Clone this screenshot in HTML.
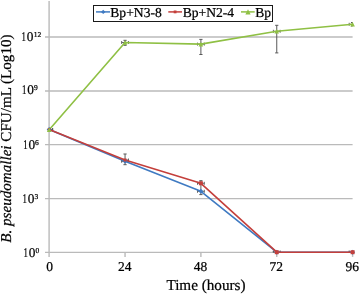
<!DOCTYPE html>
<html><head><meta charset="utf-8"><style>
html,body{margin:0;padding:0;background:#fff;width:359px;height:294px;overflow:hidden}
svg{display:block;text-rendering:geometricPrecision}
text{stroke:#000;stroke-width:0.22px;paint-order:stroke}
</style></head><body>
<svg width="359" height="294" viewBox="0 0 359 294">
<rect width="359" height="294" fill="#fff"/>
<line x1="45" y1="37.0" x2="352.6" y2="37.0" stroke="#bababa" stroke-width="1.4"/>
<line x1="45" y1="91.0" x2="352.6" y2="91.0" stroke="#bababa" stroke-width="1.4"/>
<line x1="45" y1="144.6" x2="352.6" y2="144.6" stroke="#bababa" stroke-width="1.4"/>
<line x1="45" y1="198.6" x2="352.6" y2="198.6" stroke="#bababa" stroke-width="1.4"/>
<line x1="45" y1="252.4" x2="352.6" y2="252.4" stroke="#bababa" stroke-width="1.4"/>
<line x1="49.1" y1="1" x2="49.1" y2="256.9" stroke="#bababa" stroke-width="1.4"/>
<line x1="125.05" y1="252.4" x2="125.05" y2="256.9" stroke="#bababa" stroke-width="1.4"/>
<line x1="200.90" y1="252.4" x2="200.90" y2="256.9" stroke="#bababa" stroke-width="1.4"/>
<line x1="276.75" y1="252.4" x2="276.75" y2="256.9" stroke="#bababa" stroke-width="1.4"/>
<line x1="352.60" y1="252.4" x2="352.60" y2="256.9" stroke="#bababa" stroke-width="1.4"/>
<clipPath id="pa"><rect x="49.2" y="0" width="303.4" height="252.4"/></clipPath><g clip-path="url(#pa)">
<path d="M125.05 40.3V45.3M123.45 40.3H126.65M123.45 45.3H126.65" stroke="#595959" stroke-width="1" fill="none"/>
<path d="M200.90 39.4V54.5M199.30 39.4H202.50M199.30 54.5H202.50" stroke="#595959" stroke-width="1" fill="none"/>
<path d="M276.75 25.3V52.9M275.15 25.3H278.35M275.15 52.9H278.35" stroke="#595959" stroke-width="1" fill="none"/>
<path d="M352.60 22.5V26M351.00 22.5H354.20M351.00 26H354.20" stroke="#595959" stroke-width="1" fill="none"/>
<path d="M125.05 154V164.7M123.45 154H126.65M123.45 164.7H126.65" stroke="#595959" stroke-width="1" fill="none"/>
<path d="M200.90 180.7V194.6M199.30 180.7H202.50M199.30 194.6H202.50" stroke="#595959" stroke-width="1" fill="none"/>
<path d="M45.80 129.60H52.60M45.80 128.10V131.10M52.60 128.10V131.10" stroke="#595959" stroke-width="0.9" fill="none"/>
<path d="M121.65 161.30H128.45M121.65 159.80V162.80M128.45 159.80V162.80" stroke="#595959" stroke-width="0.9" fill="none"/>
<path d="M197.50 191.30H204.30M197.50 189.80V192.80M204.30 189.80V192.80" stroke="#595959" stroke-width="0.9" fill="none"/>
<path d="M273.35 252.20H280.15M273.35 250.70V253.70M280.15 250.70V253.70" stroke="#595959" stroke-width="0.9" fill="none"/>
<path d="M349.20 252.20H356.00M349.20 250.70V253.70M356.00 250.70V253.70" stroke="#595959" stroke-width="0.9" fill="none"/>
<path d="M45.80 129.60H52.60M45.80 128.10V131.10M52.60 128.10V131.10" stroke="#595959" stroke-width="0.9" fill="none"/>
<path d="M121.65 160.00H128.45M121.65 158.50V161.50M128.45 158.50V161.50" stroke="#595959" stroke-width="0.9" fill="none"/>
<path d="M197.50 183.30H204.30M197.50 181.80V184.80M204.30 181.80V184.80" stroke="#595959" stroke-width="0.9" fill="none"/>
<path d="M273.35 252.20H280.15M273.35 250.70V253.70M280.15 250.70V253.70" stroke="#595959" stroke-width="0.9" fill="none"/>
<path d="M349.20 252.20H356.00M349.20 250.70V253.70M356.00 250.70V253.70" stroke="#595959" stroke-width="0.9" fill="none"/>
<path d="M45.80 129.80H52.60M45.80 128.30V131.30M52.60 128.30V131.30" stroke="#595959" stroke-width="0.9" fill="none"/>
<path d="M121.65 42.50H128.45M121.65 41.00V44.00M128.45 41.00V44.00" stroke="#595959" stroke-width="0.9" fill="none"/>
<path d="M197.50 44.10H204.30M197.50 42.60V45.60M204.30 42.60V45.60" stroke="#595959" stroke-width="0.9" fill="none"/>
<path d="M273.35 31.30H280.15M273.35 29.80V32.80M280.15 29.80V32.80" stroke="#595959" stroke-width="0.9" fill="none"/>
<path d="M349.20 24.30H356.00M349.20 22.80V25.80M356.00 22.80V25.80" stroke="#595959" stroke-width="0.9" fill="none"/>
</g>
<polyline points="49.20,129.6 125.05,161.3 200.90,191.3 276.75,252.2 352.60,252.2" fill="none" stroke="#3f7ac2" stroke-width="1.6" stroke-linejoin="round"/>
<polyline points="49.20,129.6 125.05,160.0 200.90,183.3 276.75,252.2 352.60,252.2" fill="none" stroke="#c43f3b" stroke-width="1.6" stroke-linejoin="round"/>
<polyline points="49.20,129.8 125.05,42.5 200.90,44.1 276.75,31.3 352.60,24.3" fill="none" stroke="#8fc044" stroke-width="1.6" stroke-linejoin="round"/>
<path d="M49.20 127.10L51.70 129.60L49.20 132.10L46.70 129.60Z" fill="#3f7ac2"/>
<path d="M125.05 158.80L127.55 161.30L125.05 163.80L122.55 161.30Z" fill="#3f7ac2"/>
<path d="M200.90 188.80L203.40 191.30L200.90 193.80L198.40 191.30Z" fill="#3f7ac2"/>
<path d="M276.75 249.70L279.25 252.20L276.75 254.70L274.25 252.20Z" fill="#3f7ac2"/>
<path d="M352.60 249.70L355.10 252.20L352.60 254.70L350.10 252.20Z" fill="#3f7ac2"/>
<rect x="47.80" y="128.20" width="2.8" height="2.8" fill="#c43f3b"/>
<rect x="123.55" y="158.50" width="3.0" height="3.0" fill="#c43f3b"/>
<rect x="198.90" y="181.30" width="4.0" height="4.0" fill="#c43f3b"/>
<rect x="274.75" y="250.20" width="4.0" height="4.0" fill="#c43f3b"/>
<rect x="350.60" y="250.20" width="4.0" height="4.0" fill="#c43f3b"/>
<path d="M49.20 127.50L51.50 132.10L46.90 132.10Z" fill="#8fc044"/>
<path d="M125.05 40.20L127.35 44.80L122.75 44.80Z" fill="#8fc044"/>
<path d="M200.90 41.80L203.20 46.40L198.60 46.40Z" fill="#8fc044"/>
<path d="M276.75 29.00L279.05 33.60L274.45 33.60Z" fill="#8fc044"/>
<path d="M352.60 22.00L354.90 26.60L350.30 26.60Z" fill="#8fc044"/>
<rect x="93.5" y="5.5" width="179" height="16" fill="#fff" stroke="#1a1a1a" stroke-width="1"/>
<line x1="96" y1="11.9" x2="110" y2="11.9" stroke="#3f7ac2" stroke-width="1.5"/><path d="M103.20 9.70L105.40 11.90L103.20 14.10L101.00 11.90Z" fill="#3f7ac2"/>
<line x1="168.3" y1="11.9" x2="182" y2="11.9" stroke="#c43f3b" stroke-width="1.5"/><rect x="173.70" y="10.50" width="2.8" height="2.8" fill="#c43f3b"/>
<line x1="241" y1="11.9" x2="254.7" y2="11.9" stroke="#8fc044" stroke-width="1.5"/><path d="M248.00 9.30L250.60 14.50L245.40 14.50Z" fill="#8fc044"/>
<text transform="translate(110.30,16.50) scale(1,1.0)" font-family="Liberation Serif, serif" font-size="13.6" >Bp+N3-8</text>
<text transform="translate(182.70,16.50) scale(1,1.0)" font-family="Liberation Serif, serif" font-size="13.6" >Bp+N2-4</text>
<text transform="translate(255.30,16.50) scale(1,1.0)" font-family="Liberation Serif, serif" font-size="13.6" >Bp</text>
<text transform="translate(28.70,256.70) scale(1,1.0)" font-family="Liberation Serif, serif" font-size="13.3" >0</text>
<text transform="translate(25.60,256.70) scale(0.66,1.0)" font-family="Liberation Serif, serif" font-size="13.3" text-anchor="middle">1</text>
<text transform="translate(35.40,252.50) scale(1,1.0)" font-family="Liberation Serif, serif" font-size="7.5" >0</text>
<text transform="translate(27.70,202.60) scale(1,1.0)" font-family="Liberation Serif, serif" font-size="13.3" >0</text>
<text transform="translate(24.60,202.60) scale(0.66,1.0)" font-family="Liberation Serif, serif" font-size="13.3" text-anchor="middle">1</text>
<text transform="translate(34.40,198.50) scale(1,1.0)" font-family="Liberation Serif, serif" font-size="7.5" >3</text>
<text transform="translate(28.60,149.30) scale(1,1.0)" font-family="Liberation Serif, serif" font-size="13.3" >0</text>
<text transform="translate(25.50,149.30) scale(0.66,1.0)" font-family="Liberation Serif, serif" font-size="13.3" text-anchor="middle">1</text>
<text transform="translate(34.90,145.10) scale(1,1.0)" font-family="Liberation Serif, serif" font-size="7.5" >6</text>
<text transform="translate(27.30,94.30) scale(1,1.0)" font-family="Liberation Serif, serif" font-size="13.3" >0</text>
<text transform="translate(24.20,94.30) scale(0.66,1.0)" font-family="Liberation Serif, serif" font-size="13.3" text-anchor="middle">1</text>
<text transform="translate(34.10,89.60) scale(1,1.0)" font-family="Liberation Serif, serif" font-size="7.5" >9</text>
<text transform="translate(26.80,40.60) scale(1,1.0)" font-family="Liberation Serif, serif" font-size="13.3" >0</text>
<text transform="translate(23.70,40.60) scale(0.66,1.0)" font-family="Liberation Serif, serif" font-size="13.3" text-anchor="middle">1</text>
<text transform="translate(33.70,36.50) scale(1,1.0)" font-family="Liberation Serif, serif" font-size="7.5" >12</text>
<text transform="translate(49.60,271.10) scale(1,1.0)" font-family="Liberation Serif, serif" font-size="13.5" text-anchor="middle">0</text>
<text transform="translate(124.65,271.10) scale(1,1.0)" font-family="Liberation Serif, serif" font-size="13.5" text-anchor="middle">24</text>
<text transform="translate(200.50,271.10) scale(1,1.0)" font-family="Liberation Serif, serif" font-size="13.5" text-anchor="middle">48</text>
<text transform="translate(276.35,271.10) scale(1,1.0)" font-family="Liberation Serif, serif" font-size="13.5" text-anchor="middle">72</text>
<text transform="translate(352.20,271.10) scale(1,1.0)" font-family="Liberation Serif, serif" font-size="13.5" text-anchor="middle">96</text>
<text x="206" y="289.8" font-family="Liberation Serif, serif" font-size="15.2" text-anchor="middle">Time (hours)</text>
<text transform="translate(11.3,138.6) rotate(-90)" font-family="Liberation Serif, serif" font-size="15.1" text-anchor="middle"><tspan font-style="italic">B. pseudomallei</tspan> CFU/mL (Log10)</text>
</svg></body></html>
